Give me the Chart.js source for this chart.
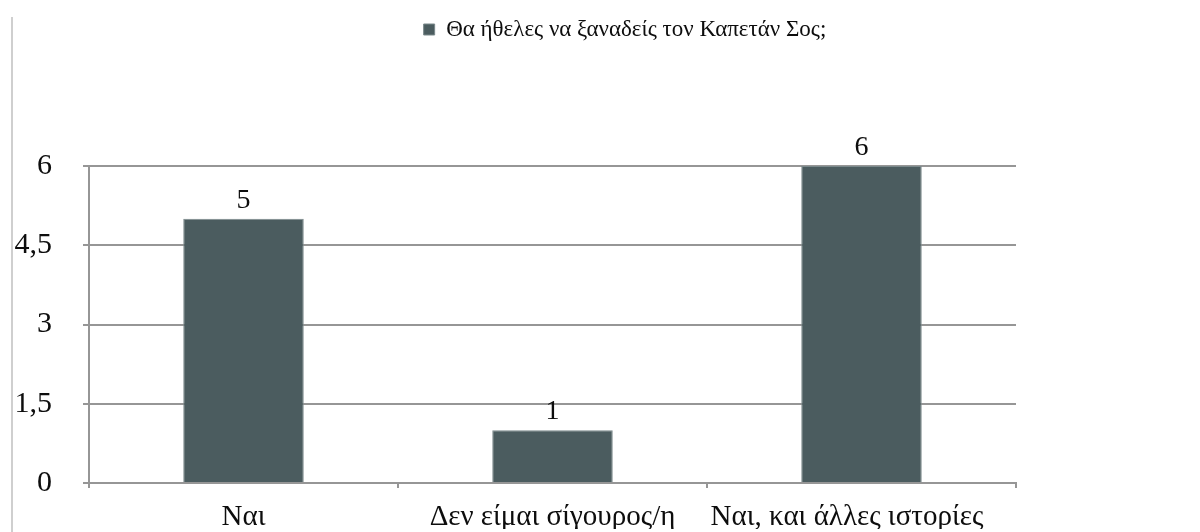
<!DOCTYPE html>
<html lang="el">
<head>
<meta charset="utf-8">
<title>Καπετάν Σος</title>
<script src="https://cdn.jsdelivr.net/npm/chart.js@4.4.1/dist/chart.umd.min.js"></script>
<style>
  html, body { margin: 0; padding: 0; background: #fff; overflow: hidden; }
  #wrap { position: absolute; left: 0; top: 0; width: 1250px; height: 532px; }
  #frame { position: absolute; left: 11px; top: 17px; width: 2px; height: 515px; background: #cfcfcf; }
</style>
</head>
<body>
<div id="wrap"><canvas id="myChart"></canvas></div>
<div id="frame"></div>
<script>
let labels = ['Ναι', 'Δεν είμαι σίγουρος/η', 'Ναι, και άλλες ιστορίες'];
let answers = [5, 1, 6];
let seriesName = 'Θα ήθελες να ξαναδείς τον Καπετάν Σος;';
let yTicks = [0, 1.5, 3, 4.5, 6];

const serif = '"Liberation Serif", "Times New Roman", serif';
const gridGrey = '#969696';
const ink = '#0d0d0d';

// keep the legend band a fixed height so the plot starts lower down
const legendBand = {
  id: 'legendBand',
  beforeInit(chart) {
    if (!chart.legend) return;
    const fit = chart.legend.fit;
    chart.legend.fit = function () {
      fit.call(this);
      this.height = 166;
    };
  }
};

// numbers above each bar
const valueLabels = {
  id: 'valueLabels',
  afterDatasetsDraw(chart) {
    const ctx = chart.ctx;
    const meta = chart.getDatasetMeta(0);
    ctx.save();
    ctx.font = '28px ' + serif;
    ctx.fillStyle = ink;
    ctx.textAlign = 'center';
    ctx.textBaseline = 'alphabetic';
    meta.data.forEach((bar, i) => {
      ctx.fillText(String(chart.data.datasets[0].data[i]), bar.x, bar.y - 11);
    });
    ctx.restore();
  }
};

let myChart = document.getElementById('myChart').getContext('2d');

let answersChart = new Chart(myChart, {
  type: 'bar',
  data: {
    labels: labels,
    datasets: [{
      label: seriesName,
      data: answers,
      backgroundColor: '#4b5c5f',
      borderColor: '#7b898b',
      borderWidth: 1,
      barPercentage: 0.39,
      categoryPercentage: 1
    }]
  },
  plugins: [legendBand, valueLabels],
  options: {
    responsive: true,
    maintainAspectRatio: false,
    animation: false,
    layout: { padding: 0 },
    plugins: {
      tooltip: { enabled: false },
      legend: {
        position: 'top',
        labels: {
          color: ink,
          boxWidth: 11,
          boxHeight: 11,
          padding: 18,
          font: { size: 23, family: serif }
        }
      }
    },
    scales: {
      x: {
        offset: true,
        grid: {
          offset: true,
          drawOnChartArea: false,
          drawTicks: true,
          tickLength: 5,
          color: gridGrey,
          lineWidth: 2
        },
        border: { color: gridGrey, width: 2 },
        ticks: {
          color: ink,
          padding: 12,
          maxRotation: 0,
          autoSkip: false,
          font: { size: 29, family: serif },
          // the last label sits a little left of its slot
          callback(value, index) {
            const text = this.getLabelForValue(value);
            return index === labels.length - 1 ? text + '\u00a0\u00a0\u00a0\u00a0' : text;
          }
        },
        afterFit(scale) { scale.height = 46; }
      },
      y: {
        min: 0,
        max: 6,
        afterBuildTicks(scale) {
          scale.ticks = yTicks.map(v => ({ value: v }));
        },
        grid: { color: gridGrey, lineWidth: 2, tickLength: 6 },
        border: { color: gridGrey, width: 2 },
        ticks: {
          color: ink,
          padding: 31,
          font: { size: 30, family: serif },
          callback: v => String(v).replace('.', ',')
        },
        afterFit(scale) { scale.width = 89; }
      },
      side: {
        position: 'right',
        grid: { display: false },
        border: { display: false },
        ticks: { display: false },
        afterFit(scale) { scale.width = 234; }
      }
    }
  }
});
</script>
</body>
</html>
